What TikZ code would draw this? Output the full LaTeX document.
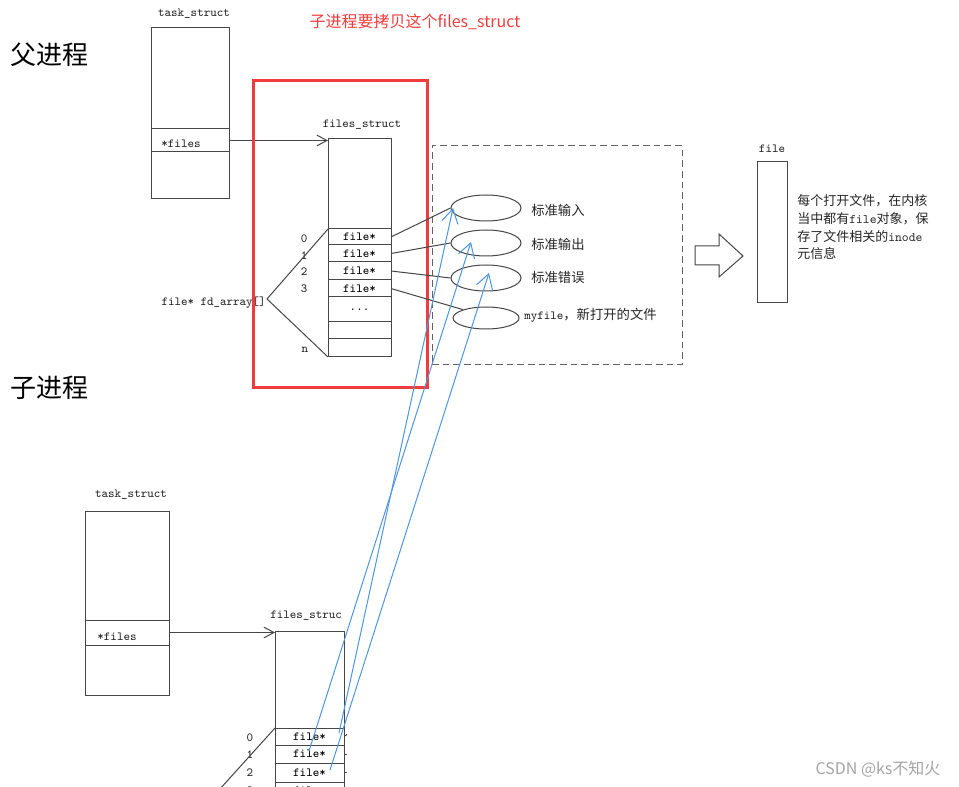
\documentclass[tikz,border=0pt]{standalone}
\usepackage{fontspec}
\usetikzlibrary{shapes.geometric,arrows.meta}
\newfontfamily\cjk{Noto Sans CJK SC}
\newdimen\pxu \pxu=0.75pt
\definecolor{ln}{RGB}{70,70,70}
\definecolor{redc}{RGB}{240,60,60}
\definecolor{bluec}{RGB}{80,150,220}
\definecolor{wm}{RGB}{165,165,165}
\begin{document}
\begin{tikzpicture}[x=0.75pt,y=-0.75pt,
  cell/.style={draw=ln, line width=0.75pt, inner sep=0, outer sep=0, rectangle, font=\ttfamily\fontsize{9.3}{10}\selectfont},
  mono/.style={font=\ttfamily\fontsize{9.3}{10}\selectfont, inner sep=0, text=black!85},
  cjklab/.style={font=\cjk\fontsize{10}{12}\selectfont, inner sep=0, anchor=west, text=black!85},
  thin/.style={draw=ln, line width=0.75pt},
  blk/.style={thin, -{Straight Barb[length=7.5pt,width=8pt]}},
  blu/.style={draw=bluec, line width=0.75pt, -{Straight Barb[length=10.5pt,width=12.5pt]}},
  ell/.style={draw=ln, line width=0.75pt, ellipse, inner sep=0, minimum width=70\pxu, minimum height=26\pxu},
  big/.style={font=\cjk\fontsize{19.5}{22}\selectfont, inner sep=0}
]
\useasboundingbox (0,0) rectangle (959,787);
\fill[white] (0,0) rectangle (959,787);
\clip (0,0) rectangle (959,787);

% big labels
\node[big] (fa) at (49,55) {父进程};
\node[big] (zi) at (49,388) {子进程};

% red title
\node[font=\cjk\fontsize{12}{14}\selectfont, text=redc, inner sep=0] (title) at (415,22) {子进程要拷贝这个files\_struct};

% parent task_struct
\node[mono] (ptl) at (194,14) {task\_struct};
\node[cell, minimum width=78\pxu, minimum height=101\pxu] (pt0) at (190,78.5) {};
\node[cell, minimum width=78\pxu, minimum height=23\pxu] (pt1) at (190,140.5) {};
\node[cell, minimum width=78\pxu, minimum height=47\pxu] (pt2) at (190,175.5) {};
\node[mono] (ptf) at (181,144) {*files};

% parent files_struct
\node[mono] (pfl) at (362,125) {files\_struct};
\node[cell, minimum width=63\pxu, minimum height=90\pxu] (pf0) at (359.5,184) {};
\node[cell, minimum width=63\pxu, minimum height=16\pxu] (pr0) at (359.5,237) {file*};
\node[cell, minimum width=63\pxu, minimum height=17\pxu] (pr1) at (359.5,253.5) {file*};
\node[cell, minimum width=63\pxu, minimum height=18\pxu] (pr2) at (359.5,271) {file*};
\node[cell, minimum width=63\pxu, minimum height=17\pxu] (pr3) at (359.5,288.5) {file*};
\node[cell, minimum width=63\pxu, minimum height=25\pxu] (prd) at (359.5,309.5) {...};
\node[cell, minimum width=63\pxu, minimum height=17\pxu] (pre) at (359.5,330.5) {};
\node[cell, minimum width=63\pxu, minimum height=18\pxu] (prn) at (359.5,348) {};

\draw[blk] (pt1.east) -- (pt1.east -| pf0.west);

% indices
\node[mono] (pi0) at (304,239) {0};
\node[mono] (pi1) at (304,256) {1};
\node[mono] (pi2) at (304,272) {2};
\node[mono] (pi3) at (304,289) {3};
\node[mono] (pin) at (305,350) {n};

% fd_array
\node[mono, anchor=east] (fda) at (266,303) {file* fd\_array[]};
\coordinate (fdp) at (267,299);
\draw[thin] (pr0.north west) -- (fdp) -- (prn.south west);

% red box
\node[draw=redc, line width=2.25pt, minimum width=174\pxu, minimum height=307\pxu, inner sep=0] (redbox) at (340,234.5) {};

% dashed box
\node[draw=ln!85, line width=0.75pt, dash pattern=on 5pt off 3pt, minimum width=250\pxu, minimum height=219\pxu, inner sep=0] (dbox) at (557,255.5) {};

% ellipses
\node[ell] (e1) at (486,208) {};
\node[ell] (e2) at (486,243) {};
\node[ell] (e3) at (486,278) {};
\node[ell, minimum width=66\pxu, minimum height=22\pxu] (e4) at (486,318) {};

\node[cjklab] (l1) at (531,210) {标准输入};
\node[cjklab] (l2) at (531,244) {标准输出};
\node[cjklab] (l3) at (531,277) {标准错误};
\node[cjklab] (l4) at (524,315) {{\ttfamily\fontsize{9.3}{10}\selectfont myfile}，新打开的文件};

\draw[thin] (pr0.east) -- (e1.west);
\draw[thin] (pr1.east) -- (e2.west);
\draw[thin] (pr2.east) -- (e3.west);
\draw[thin] (pr3.east) -- (e4.160);

% block arrow
\draw[thin, fill=white] (695,246) -- (719,246) -- (719,234) -- (743,256) -- (719,277) -- (719,265) -- (695,265) -- cycle;

% file box
\node[mono] (fl) at (772,149) {file};
\node[cell, minimum width=30\pxu, minimum height=141\pxu] (fbox) at (772,232.5) {};
\node[cjklab, font=\cjk\fontsize{9.75}{12}\selectfont] (d1) at (797,201) {每个打开文件，在内核};
\node[cjklab, font=\cjk\fontsize{9.75}{12}\selectfont] (d2) at (797,219) {当中都有{\ttfamily file}对象，保};
\node[cjklab, font=\cjk\fontsize{9.75}{12}\selectfont] (d3) at (797,237) {存了文件相关的{\ttfamily inode}};
\node[cjklab, font=\cjk\fontsize{9.75}{12}\selectfont] (d4) at (797,254) {元信息};

% child task_struct
\node[mono] (ctl) at (131,495) {task\_struct};
\node[cell, minimum width=84\pxu, minimum height=109\pxu] (ct0) at (127,565.5) {};
\node[cell, minimum width=84\pxu, minimum height=25\pxu] (ct1) at (127,632.5) {};
\node[cell, minimum width=84\pxu, minimum height=50\pxu] (ct2) at (127,670) {};
\node[mono] (ctf) at (117,637) {*files};

% child files_struct
\node[mono, anchor=west] (cfl) at (270,616) {files\_struc};
\node[cell, minimum width=69\pxu, minimum height=97\pxu] (cf0) at (309.5,679.5) {};
\node[cell, minimum width=69\pxu, minimum height=17\pxu] (cr0) at (309.5,736.5) {file*};
\node[cell, minimum width=69\pxu, minimum height=18\pxu] (cr1) at (309.5,754) {file*};
\node[cell, minimum width=69\pxu, minimum height=19\pxu] (cr2) at (309.5,772.5) {file*};
\node[cell, minimum width=69\pxu, minimum height=18\pxu] (cr3) at (309.5,791) {file*};

\draw[blk] (ct1.east) -- (ct1.east -| cf0.west);

\node[mono] (ci0) at (250,738) {0};
\node[mono] (ci1) at (250,755) {1};
\node[mono] (ci2) at (250,773) {2};
\node[mono] (ci3) at (250,791) {3};

\coordinate (cfdp) at (210,800);
\draw[thin] (cr0.north west) -- (cfdp);

\draw[thin] (cr0.east) -- ++(3,-2);
\draw[thin] (cr1.east) -- ++(3,0);
\draw[thin] (cr2.east) -- ++(3,0);

% blue connectors
\coordinate (b1s) at (339,733);
\coordinate (b1e) at (453,208);
\coordinate (b2s) at (309,751);
\coordinate (b2e) at (471,242);
\coordinate (b3s) at (330,770);
\coordinate (b3e) at (489,273);
\draw[blu] (b1s) -- (b1e);
\draw[blu] (b2s) -- (b2e);
\draw[blu] (b3s) -- (b3e);

% watermark
\node[font=\cjk\fontsize{12}{14}\selectfont, text=wm, inner sep=0] (wmk) at (878,769) {CSDN @ks不知火};
\end{tikzpicture}
\end{document}
